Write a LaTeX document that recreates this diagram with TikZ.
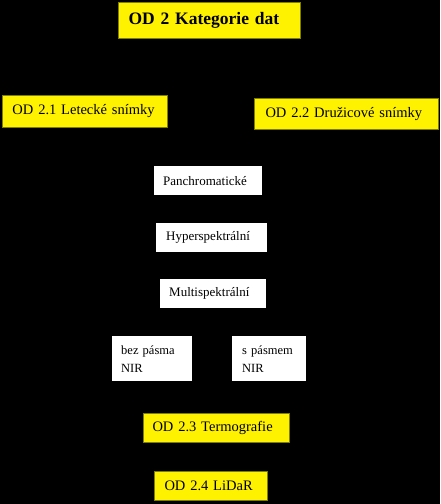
\documentclass[tikz,border=0pt]{standalone}
\usepackage{fontspec}
\setmainfont{Liberation Serif}
\definecolor{olivebd}{RGB}{128,128,0}
\tikzset{
  base/.style={anchor=north west, inner ysep=0pt, align=left},
  ybox/.style={base, fill=yellow, draw=olivebd, line width=1pt, font=\fontsize{14.5}{17}\selectfont},
  wbox/.style={base, fill=white, font=\fontsize{13}{16}\selectfont},
  sbox/.style={base, fill=white, font=\fontsize{12.5}{18}\selectfont},
}
\begin{document}
\begin{tikzpicture}[x=1pt,y=1pt]
\useasboundingbox[fill=black] (0,0) rectangle (440,-504);
\node[ybox, font=\fontsize{17.5}{20}\selectfont\bfseries, minimum width=182pt, minimum height=36pt, text width=162pt, inner xsep=10pt] (od2) at (118,-2) {\mbox{OD 2 Kategorie dat}};
\node[ybox, minimum width=165pt, minimum height=32pt, text width=145pt, inner xsep=10pt] (od21) at (2,-95) {\raisebox{2pt}{\mbox{OD 2.1 Letecké snímky}}};
\node[ybox, minimum width=184pt, minimum height=31pt, text width=162pt, inner xsep=11pt] (od22) at (254,-98) {\mbox{OD 2.2 Družicové snímky}};
\node[wbox, minimum width=108pt, minimum height=29pt, text width=90pt, inner xsep=9pt] (pan) at (154,-166) {\mbox{Panchromatické}};
\node[wbox, minimum width=111pt, minimum height=29pt, text width=91pt, inner xsep=10pt] (hyp) at (156,-223) {\mbox{Hyperspektrální}};
\node[wbox, minimum width=106pt, minimum height=29pt, text width=88pt, inner xsep=9pt] (mul) at (160,-279) {\mbox{Multispektrální}};
\node[sbox, minimum width=80pt, minimum height=45pt, text width=62pt, inner xsep=9pt] (bez) at (112,-336) {bez pásma\\NIR};
\node[sbox, minimum width=74pt, minimum height=45pt, text width=54pt, inner xsep=10pt] (spa) at (232,-336) {s pásmem\\NIR};
\node[ybox, minimum width=146pt, minimum height=29pt, text width=128pt, inner xsep=9pt] (od23) at (143,-413) {\mbox{OD 2.3 Termografie}};
\node[ybox, minimum width=113pt, minimum height=29pt, text width=93pt, inner xsep=10pt] (od24) at (154,-471) {\mbox{OD 2.4 LiDaR}};
\end{tikzpicture}
\end{document}
